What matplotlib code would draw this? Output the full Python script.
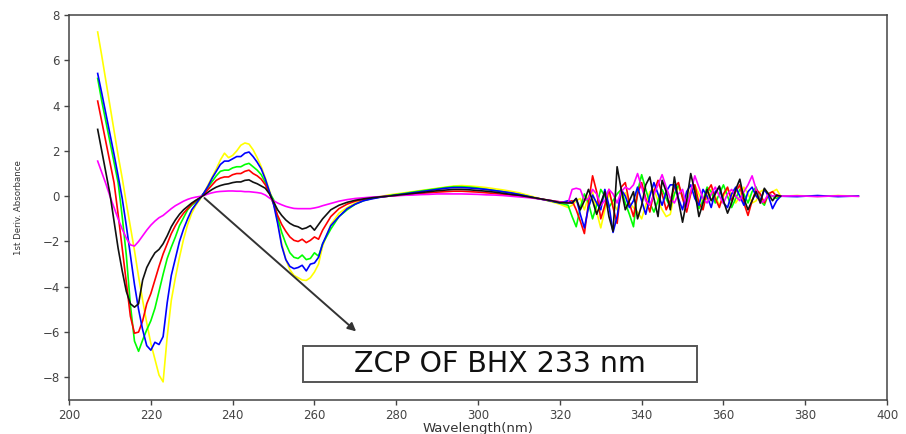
import numpy as np
import matplotlib
matplotlib.use("Agg")
import matplotlib.pyplot as plt
from matplotlib.patches import Rectangle

# wavelength grid (nm): fine steps where the spectra change fast
wavelength = np.concatenate([np.arange(207, 263), np.arange(264, 321, 2),
                             np.arange(322, 375), [378, 383, 388, 393]])

# 1st derivative absorbance, one list per solution (nan = trace not recorded)
yellow = [7.25, 6.2, 5.1, 4.0, 2.9, 1.8, 0.8, -0.3, -1.35, -2.4, -3.55, -4.6, -5.6, -6.5, -7.2, -7.9,
          -8.2, -6.2, -4.6, -3.6, -2.7, -1.9, -1.25, -0.75, -0.4, -0.15,
          0.15, 0.5, 0.85, 1.2, 1.6, 1.9, 1.7, 1.8, 2.0, 2.25, 2.35, 2.3, 2.05, 1.7, 1.3, 0.8, 0.25,
          -0.25, -1.1, -2.1, -2.8, -3.25, -3.5, -3.6, -3.7, -3.72, -3.6, -3.35, -3.0, -2.2,
          -1.25, -0.75, -0.5, -0.3, -0.18, -0.1, -0.02, 0.05, 0.1, 0.15, 0.2, 0.25, 0.3, 0.35, 0.4,
          0.45, 0.47, 0.45, 0.42, 0.38, 0.33, 0.28, 0.22, 0.15, 0.05, -0.05, -0.15, -0.25, -0.35,
          -0.5, -0.4, -0.2, -0.1, -0.6, 0.0, 0.2, -0.7, -1.4, -0.6,
          0.1, -0.3, -0.6, 0.0, 0.15, -0.3, -0.5, -0.7, -1.0, -0.4,
          0.2, 0.3, -0.2, -0.6, -0.9, -0.8, 0.1, 0.4, 0.0, -0.3,
          0.3, 0.5, 0.1, -0.3, -0.1, 0.3, 0.0, -0.4, 0.0, 0.3,
          0.1, -0.3, 0.0, 0.4, 0.1, -0.3, -0.2, 0.2, 0.3, 0.1,
          0.2, 0.3, 0.0,
          0.03, -0.01, 0.03, 0.0]
blue = [5.42, 4.55, 3.65, 2.75, 1.85, 0.9, -0.1, -1.3, -2.6, -3.9, -5.0, -5.9, -6.6, -6.8, -6.45, -6.55,
        -6.2, -4.7, -3.5, -2.75, -2.0, -1.45, -1.0, -0.6, -0.35, -0.1,
        0.15, 0.45, 0.8, 1.1, 1.4, 1.55, 1.55, 1.65, 1.75, 1.75, 1.9, 1.95, 1.75, 1.5, 1.2, 0.75, 0.2,
        -0.35, -1.2, -2.2, -2.8, -3.1, -3.2, -3.15, -3.05, -3.3, -3.0, -2.95, -2.7, -2.1,
        -1.3, -0.9, -0.55, -0.35, -0.2, -0.12, -0.05, 0.0, 0.05, 0.1, 0.15, 0.2, 0.25, 0.3, 0.35,
        0.38, 0.38, 0.36, 0.33, 0.3, 0.25, 0.2, 0.15, 0.08, 0.0, -0.08, -0.15, -0.22, -0.3,
        -0.2, -0.3, -0.1, -0.8, -1.4, -0.5, 0.05, -0.3, -0.6, 0.3,
        -0.4, -1.6, -0.9, 0.3, 0.0, -0.5, -0.2, 0.4, -0.2, -0.8,
        0.0, 0.6, 0.1, -0.4, 0.2, 0.5, 0.5, -0.1, -0.6, 0.2,
        0.5, -0.1, -0.4, 0.3, 0.0, -0.5, 0.2, 0.4, -0.3, -0.5,
        0.1, 0.4, 0.0, -0.4, 0.2, 0.4, 0.0, -0.2, 0.3, 0.0,
        -0.55, -0.2, 0.0,
        -0.02, 0.03, -0.02, 0.01]
green = [5.2, 4.2, 3.3, 2.4, 1.5, 0.6, -0.9, -2.6, -4.8, -6.4, -6.85, -6.35, -5.9, -5.5, -4.95, -4.2,
         -3.45, -2.75, -2.25, -1.8, -1.3, -0.95, -0.6, -0.4, -0.25, -0.1,
         0.15, 0.4, 0.65, 0.9, 1.1, 1.15, 1.15, 1.25, 1.3, 1.3, 1.4, 1.45, 1.3, 1.15, 0.95, 0.6, 0.15,
         -0.15, -0.95, -1.6, -2.1, -2.5, -2.7, -2.75, -2.6, -2.8, -2.75, -2.5, -2.65, -2.1,
         -1.45, -0.9, -0.6, -0.35, -0.2, -0.1, -0.04, 0.02, 0.07, 0.12, 0.18, 0.23, 0.28, 0.33, 0.38,
         0.42, 0.42, 0.4, 0.36, 0.3, 0.25, 0.2, 0.14, 0.08, 0.0, -0.08, -0.15, -0.22, -0.3,
         -0.4, -0.9, -1.35, -0.5, 0.1, -0.3, -1.0, -0.4, 0.3, 0.0,
         -0.5, -0.2, 0.1, 0.3, -0.3, -0.8, -1.35, 0.2, 0.95, 0.3,
         -0.3, -0.7, -0.2, 0.3, -0.1, -0.5, 0.1, 0.5, 0.0, -0.4,
         0.2, 0.4, -0.55, -0.2, 0.4, 0.2, -0.3, 0.1, 0.5, 0.0,
         -0.5, -0.1, 0.3, 0.1, -0.3, 0.2, 0.4, -0.2, -0.4, 0.1,
         0.0, -0.1, 0.0,
         np.nan, np.nan, np.nan, np.nan]
red = [4.2, 3.3, 2.4, 1.5, 0.6, -0.8, -2.3, -3.8, -5.3, -6.05, -6.0, -5.5, -4.75, -4.3, -3.7, -3.1,
       -2.55, -2.1, -1.65, -1.3, -1.0, -0.75, -0.55, -0.35, -0.2, -0.08,
       0.1, 0.3, 0.5, 0.7, 0.8, 0.85, 0.85, 0.95, 1.0, 1.0, 1.1, 1.15, 1.0, 0.9, 0.75, 0.5, 0.15,
       -0.35, -0.85, -1.25, -1.55, -1.8, -1.95, -2.0, -1.9, -2.05, -1.95, -1.8, -1.9, -1.5,
       -0.9, -0.55, -0.35, -0.22, -0.14, -0.08, -0.04, 0.0, 0.03, 0.06, 0.09, 0.12, 0.15, 0.18, 0.2,
       0.22, 0.22, 0.2, 0.18, 0.15, 0.12, 0.08, 0.05, 0.02, -0.03, -0.08, -0.14, -0.2, -0.25,
       -0.25, -0.2, -0.6, -1.1, -1.65, -0.3, 0.9, 0.2, -1.0, -0.4,
       0.3, -0.5, -1.2, 0.4, 0.6, -0.3, -0.9, 0.1, 0.6, -0.1,
       -0.7, 0.2, 0.7, 0.1, -0.6, -0.2, 0.4, 0.6, -0.1, -0.7,
       0.1, 0.5, -0.3, -0.6, 0.2, 0.5, -0.1, -0.5, 0.1, 0.4,
       -0.2, 0.2, 0.5, -0.3, -0.85, -0.2, 0.3, 0.1, -0.3, 0.1,
       0.2, 0.0, 0.0,
       np.nan, np.nan, np.nan, np.nan]
black = [2.95, 2.0, 1.05, 0.1, -1.1, -2.3, -3.3, -4.2, -4.75, -4.9, -4.75, -3.7, -3.15, -2.8, -2.5, -2.35,
         -2.1, -1.75, -1.35, -1.05, -0.8, -0.6, -0.45, -0.3, -0.18, -0.07,
         0.05, 0.18, 0.3, 0.4, 0.47, 0.52, 0.55, 0.6, 0.63, 0.63, 0.7, 0.72, 0.62, 0.55, 0.45, 0.35, 0.1,
         -0.25, -0.6, -0.85, -1.05, -1.2, -1.3, -1.35, -1.45, -1.4, -1.3, -1.5, -1.25, -1.0,
         -0.6, -0.4, -0.27, -0.18, -0.12, -0.07, -0.03, 0.0, 0.04, 0.08, 0.12, 0.16, 0.2, 0.24, 0.27,
         0.3, 0.3, 0.28, 0.25, 0.22, 0.18, 0.13, 0.08, 0.04, -0.02, -0.08, -0.14, -0.2, -0.28,
         -0.3, -0.3, -0.1, -0.6, -0.2, 0.3, -0.2, -0.8, -0.3, 0.2,
         -0.9, -1.55, 1.3, 0.3, -0.6, -0.2, 0.2, -1.0, -0.4, 0.5,
         0.85, -0.1, -0.9, 0.7, 0.2, -0.6, 0.85, -0.2, -1.15, -0.2,
         1.0, 0.2, -0.9, -0.3, 0.3, -0.2, 0.1, 0.45, -0.2, -0.75,
         -0.3, 0.3, 0.75, -0.1, -0.6, -0.2, 0.2, -0.3, 0.35, 0.1,
         -0.2, 0.05, 0.0,
         np.nan, np.nan, np.nan, np.nan]
magenta = [1.55, 1.05, 0.55, 0.0, -0.5, -1.0, -1.45, -1.85, -2.15, -2.2, -2.0, -1.75, -1.5, -1.28, -1.1, -0.95,
           -0.85, -0.7, -0.55, -0.42, -0.32, -0.22, -0.14, -0.08, -0.04, -0.01,
           0.03, 0.1, 0.15, 0.19, 0.21, 0.22, 0.23, 0.23, 0.22, 0.22, 0.2, 0.2, 0.18, 0.16, 0.13, 0.05, -0.08,
           -0.2, -0.3, -0.38, -0.45, -0.5, -0.54, -0.55, -0.55, -0.55, -0.55, -0.52, -0.48, -0.42,
           -0.32, -0.22, -0.15, -0.1, -0.07, -0.04, -0.02, 0.0, 0.02, 0.04, 0.05, 0.07, 0.08, 0.1, 0.1,
           0.1, 0.1, 0.09, 0.08, 0.06, 0.05, 0.03, 0.0, -0.03, -0.06, -0.1, -0.15, -0.2, -0.25,
           -0.3, 0.3, 0.35, 0.3, -0.2, -0.1, 0.3, 0.1, -0.4, -0.2,
           0.3, 0.1, -0.3, 0.2, 0.4, 0.3, 0.5, 1.0, 0.4, -0.2,
           -0.4, 0.1, 0.5, 0.95, 0.4, -0.1, -0.3, 0.1, 0.3, -0.5,
           0.2, 0.9, 0.4, -0.1, -0.3, 0.1, 0.4, 0.0, -0.3, 0.1,
           0.3, 0.0, -0.2, 0.2, 0.5, 0.9, 0.3, -0.3, -0.2, 0.1,
           0.0, 0.05, 0.0,
           0.02, -0.02, 0.02, -0.01]

series = [(yellow, '#ffff00'), (green, '#00ff00'), (red, '#ff0000'),
          (blue, '#0000ff'), (magenta, '#ff00ff'), (black, '#111111')]

zcp = 232.6
label = 'ZCP OF BHX 233 nm'

fig = plt.figure(figsize=(9.06, 4.34), dpi=100)
ax = fig.add_axes([0.0762, 0.0783, 0.9029, 0.8871])

for vals, col in series:
    assert len(vals) == len(wavelength)
    ax.plot(wavelength, vals, color=col, lw=1.2)

ax.set_xlim(200, 400)
ax.set_ylim(-9, 8)
ax.set_xticks(np.arange(200, 401, 20))
ax.set_yticks(np.arange(-8, 9, 2))
ax.tick_params(direction='out', length=3.5, width=1, colors='#444444', labelsize=8.5, pad=3)
for s in ax.spines.values():
    s.set_color('#444444')
    s.set_linewidth(1.1)

ax.set_xlabel('Wavelength(nm)', fontsize=9.5, color='#333333', labelpad=0)
ax.set_ylabel('1st Deriv. Absorbance', fontsize=6.2, color='#333333', labelpad=14)

ax.annotate('', xy=(270.7, -6.05), xytext=(zcp, 0),
            arrowprops=dict(arrowstyle='-|>', color='#333333', lw=1.4, mutation_scale=12))
# label box
ax.add_patch(Rectangle((257.1, -8.21), 96.4, 1.59, fc='white', ec='#555555', lw=1.4, zorder=4))
ax.text(305.3, -7.42, label, ha='center', va='center', fontsize=20.5, color='#111111',
        family=['DejaVu Sans'], zorder=5)

fig.savefig('out.png', dpi=100)
